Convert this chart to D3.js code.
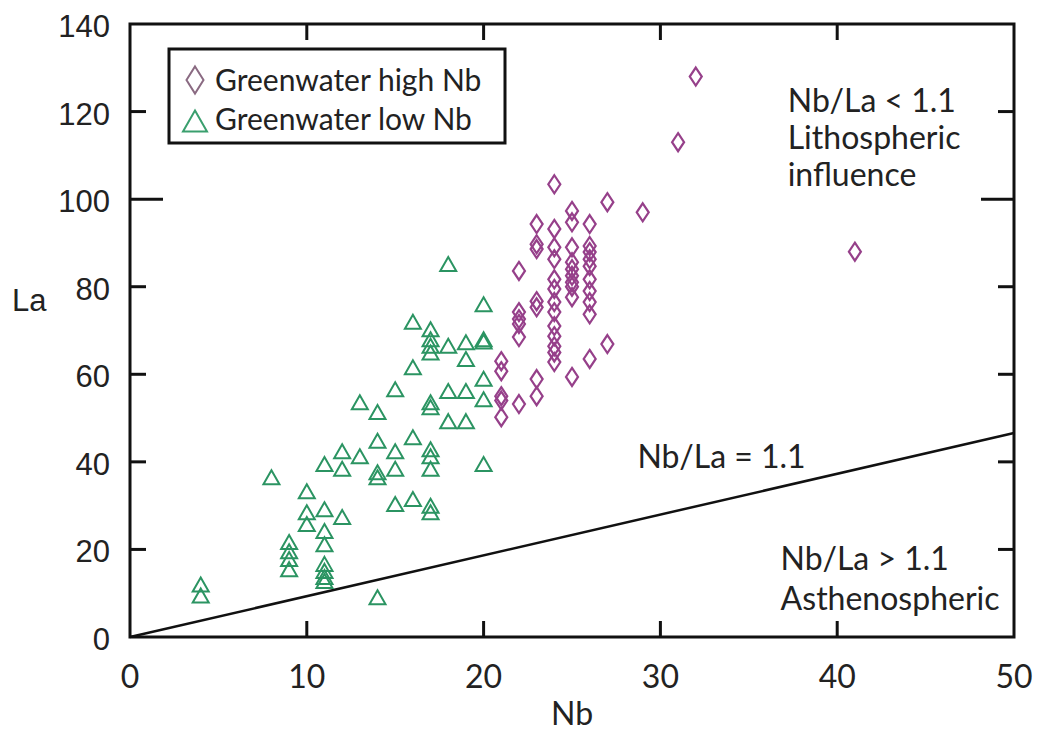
<!DOCTYPE html>
<html lang="en">
<head>
  <meta charset="UTF-8">
  <title>Nb vs La</title>
  <script src="https://cdnjs.cloudflare.com/ajax/libs/d3/7.8.5/d3.min.js"></script>
  <style>
    body { margin: 0; background: #fff; }
    .frame { fill: none; stroke: #111; stroke-width: 3px; }
    .tick-line { stroke: #111; stroke-width: 3px; }
    .ylab { font: 31px "Liberation Sans", Arial, sans-serif; fill: #222; }
    .xlab { font: 32px Lato, sans-serif; fill: #222; }
    .note { font: 32px Lato, sans-serif; fill: #222; }
    .legend-text { font: 30px Lato, sans-serif; fill: #222; }
    .ratio { fill: none; stroke: #111; stroke-width: 2.5px; }
  </style>
</head>
<body>
  <div id="chart"></div>
  <script>
    // Greenwater high Nb  [Nb, La]
    const highNb = [
      [21, 63], [21, 60.7], [21, 55], [21, 54], [21, 50.2],
      [22, 83.6], [22, 74.2], [22, 72.6], [22, 71.5], [22, 68.5], [22, 53.2],
      [23, 94.3], [23, 89.7], [23, 88.6], [23, 76.7], [23, 75.3], [23, 58.9], [23, 55],
      [24, 103.4], [24, 93.2], [24, 89], [24, 86.3], [24, 81.7], [24, 79.5], [24, 76.5],
      [24, 74.2], [24, 71], [24, 68.7], [24, 66.4], [24, 65], [24, 62.8],
      [25, 97.3], [25, 94.7], [25, 89], [25, 85.6], [25, 84], [25, 82.5], [25, 81], [25, 80],
      [25, 77.6], [25, 59.4],
      [26, 94.3], [26, 89.3], [26, 87.9], [26, 86.3], [26, 84.7], [26, 81.7], [26, 79],
      [26, 76.5], [26, 73.7], [26, 63.5],
      [27, 99.3], [27, 66.9],
      [29, 97], [31, 113], [32, 128], [41, 88]
    ];

    // Greenwater low Nb  [Nb, La]
    const lowNb = [
      [4, 12], [4, 9.5],
      [8, 36.5],
      [9, 21.7], [9, 19.6], [9, 17.8], [9, 15.5],
      [10, 33.3], [10, 28.5], [10, 25.8],
      [11, 39.5], [11, 29.2], [11, 24.2], [11, 21.2], [11, 16.7], [11, 15.1], [11, 13.7], [11, 12.8],
      [12, 42.4], [12, 38.4], [12, 27.4],
      [13, 53.6], [13, 41.3],
      [14, 51.4], [14, 44.8], [14, 37.6], [14, 36.5], [14, 9.1],
      [15, 56.6], [15, 42.4], [15, 38.4], [15, 30.4],
      [16, 72], [16, 61.6], [16, 45.6], [16, 31.5],
      [17, 70.3], [17, 68], [17, 66.5], [17, 65], [17, 53.6], [17, 52.5], [17, 42.9],
      [17, 41.3], [17, 38.4], [17, 30], [17, 28.5],
      [18, 85.2], [18, 66.5], [18, 56.2], [18, 49.3],
      [19, 67.3], [19, 63.5], [19, 56.2], [19, 49.3],
      [20, 76], [20, 68], [20, 67.5], [20, 59], [20, 54.3], [20, 39.5]
    ];

    // Nb/La = 1.1 reference line
    const ratioLine = [[0, 0], [50, 46.6]];

    const xTicks = [0, 10, 20, 30, 40, 50];
    const yTicks = [0, 20, 40, 60, 80, 100, 120, 140];

    const legendItems = ["Greenwater high Nb", "Greenwater low Nb"];
    const notes = [
      { text: "Nb/La < 1.1", nb: 37.2, la: 120 },
      { text: "Lithospheric", nb: 37.2, la: 111.4 },
      { text: "influence", nb: 37.2, la: 103 },
      { text: "Nb/La = 1.1", nb: 28.7, la: 38.5 },
      { text: "Nb/La > 1.1", nb: 36.8, la: 15.3 },
      { text: "Asthenospheric", nb: 36.8, la: 6.2 }
    ];

    const width = 1037, height = 733;
    const x = d3.scaleLinear().domain([0, 50]).range([130, 1014]);
    const y = d3.scaleLinear().domain([0, 140]).range([637, 24]);

    const svg = d3.select("#chart").append("svg")
      .attr("width", width)
      .attr("height", height);

    const tickLen = v => (v === 100 ? 33 : 16);

    // ticks (inside, on all four sides)
    const inner = yTicks.filter(v => v > 0 && v < 140);
    svg.selectAll(".ytl").data(inner).join("line")
      .attr("class", "tick-line")
      .attr("x1", x(0)).attr("x2", d => x(0) + tickLen(d))
      .attr("y1", d => y(d)).attr("y2", d => y(d));
    svg.selectAll(".ytr").data(inner).join("line")
      .attr("class", "tick-line")
      .attr("x1", x(50)).attr("x2", d => x(50) - tickLen(d))
      .attr("y1", d => y(d)).attr("y2", d => y(d));
    const xin = xTicks.filter(v => v > 0 && v < 50);
    svg.selectAll(".xtb").data(xin).join("line")
      .attr("class", "tick-line")
      .attr("x1", d => x(d)).attr("x2", d => x(d))
      .attr("y1", y(0)).attr("y2", y(0) - 16);
    svg.selectAll(".xtt").data(xin).join("line")
      .attr("class", "tick-line")
      .attr("x1", d => x(d)).attr("x2", d => x(d))
      .attr("y1", y(140)).attr("y2", y(140) + 16);

    // plot frame
    svg.append("rect")
      .attr("class", "frame")
      .attr("x", x(0)).attr("y", y(140))
      .attr("width", x(50) - x(0))
      .attr("height", y(0) - y(140));

    // tick labels
    svg.selectAll(".ylab").data(yTicks).join("text")
      .attr("class", "ylab")
      .attr("text-anchor", "end")
      .attr("x", x(0) - 20)
      .attr("y", d => y(d) + 13)
      .text(d => d);
    svg.selectAll(".xlab").data(xTicks).join("text")
      .attr("class", "xlab")
      .attr("text-anchor", "middle")
      .attr("x", d => x(d))
      .attr("y", y(0) + 51)
      .text(d => d);

    // axis titles
    svg.append("text").attr("class", "xlab")
      .attr("text-anchor", "middle")
      .attr("x", x(25)).attr("y", 725).text("Nb");
    svg.append("text").attr("class", "ylab")
      .attr("x", 12).attr("y", 311).text("La");

    // ratio line
    svg.append("path")
      .datum(ratioLine)
      .attr("class", "ratio")
      .attr("d", d3.line().x(d => x(d[0])).y(d => y(d[1])));

    // markers
    const diamond = (w, h) => `M0,${-h / 2}L${w / 2},0L0,${h / 2}L${-w / 2},0Z`;
    const triangle = (w, h) => `M0,${-h / 2}L${w / 2},${h / 2}L${-w / 2},${h / 2}Z`;

    svg.append("g").selectAll("path").data(lowNb).join("path")
      .attr("d", triangle(16, 14))
      .attr("transform", d => `translate(${x(d[0])},${y(d[1])})`)
      .attr("fill", "none")
      .attr("stroke", "#2b9462")
      .attr("stroke-width", 2);

    svg.append("g").selectAll("path").data(highNb).join("path")
      .attr("d", diamond(12, 18))
      .attr("transform", d => `translate(${x(d[0])},${y(d[1])})`)
      .attr("fill", "none")
      .attr("stroke", "#96408a")
      .attr("stroke-width", 2.2);

    // notes
    svg.selectAll(".note").data(notes).join("text")
      .attr("class", "note")
      .attr("x", d => x(d.nb))
      .attr("y", d => y(d.la))
      .text(d => d.text);

    // legend
    const lg = svg.append("g");
    lg.append("rect")
      .attr("x", 169).attr("y", 49)
      .attr("width", 336).attr("height", 94)
      .attr("fill", "#fff")
      .attr("stroke", "#111")
      .attr("stroke-width", 3);
    lg.append("path")
      .attr("d", diamond(17, 27))
      .attr("transform", "translate(195,80)")
      .attr("fill", "none").attr("stroke", "#8a6a82").attr("stroke-width", 2);
    lg.append("path")
      .attr("d", triangle(24, 21))
      .attr("transform", "translate(195,121)")
      .attr("fill", "none").attr("stroke", "#3a9f6e").attr("stroke-width", 2);
    lg.selectAll(".legend-text").data(legendItems).join("text")
      .attr("class", "legend-text")
      .attr("x", 215)
      .attr("y", (d, i) => 91 + i * 39)
      .text(d => d);
  </script>
</body>
</html>
